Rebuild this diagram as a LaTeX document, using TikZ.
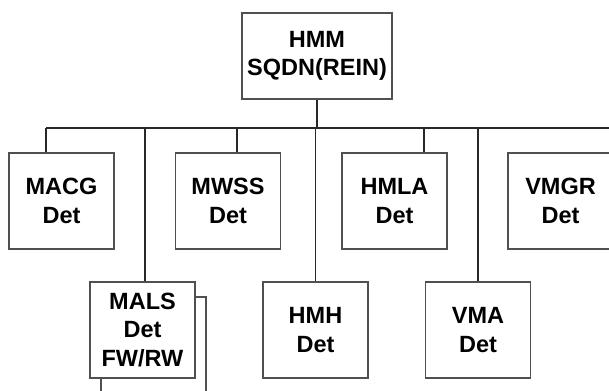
\documentclass[tikz,border=0pt]{standalone}
\usepackage{fontspec}
\setmainfont{Liberation Sans}
\usepackage{tikz}
\usetikzlibrary{positioning}
\definecolor{linecolor}{RGB}{40, 40, 40}
\definecolor{boxcolor}{RGB}{80, 80, 80}
\tikzset{
  unitbox/.style={draw=boxcolor, line width=1.6pt, fill=white, minimum width=105pt, minimum height=96pt, inner sep=0pt, align=center, font=\fontsize{23.5}{28.5}\selectfont\bfseries},
  tieline/.style={draw=linecolor, line width=1.8pt}
}

\begin{document}
\begin{tikzpicture}[x=1pt, y=-1pt]
        \clip (0,0) rectangle (609,390);
        % Squadron
        \node[unitbox, minimum width=150pt, minimum height=86pt] (hmm) at (317, 56) {HMM\\SQDN(REIN)};
        
        % Detachments, upper row
        \node[unitbox] (macg) at (61.5, 201) {MACG\\Det};
        \node[unitbox] (mwss) at (228, 201) {MWSS\\Det};
        \node[unitbox] (hmla) at (394.5, 201) {HMLA\\Det};
        \node[unitbox] (vmgr) at (560.5, 201) {VMGR\\Det};
        
        % Detachments, lower row
        \node[unitbox] (malsback) at (153.5, 345) {};
        \node[unitbox] (mals) at (142.5, 330) {MALS\\Det\\FW/RW};
        \node[unitbox] (hmh) at (315.5, 330) {HMH\\Det};
        \node[unitbox] (vma) at (478, 330) {VMA\\Det};
        
        % Bar
        \coordinate (barleft) at (46, 128);
        \coordinate (barright) at (615, 128);
        \draw[tieline] (barleft) -- (barright);
        \draw[tieline] (hmm.south) -- (hmm.south |- barleft);
        
        % Branches
        \draw[tieline] (barleft) -- (barleft |- macg.north);
        \coordinate (mwsstop) at (237, 128);
        \draw[tieline] (mwsstop) -- (mwsstop |- mwss.north);
        \coordinate (hmlatop) at (424, 128);
        \draw[tieline] (hmlatop) -- (hmlatop |- hmla.north);
        \coordinate (malstop) at (145, 128);
        \draw[tieline] (malstop) -- (malstop |- mals.north);
        \draw[tieline] (hmh.north |- barleft) -- (hmh.north);
        \draw[tieline] (vma.north |- barleft) -- (vma.north);
        
    \end{tikzpicture}
\end{document}
